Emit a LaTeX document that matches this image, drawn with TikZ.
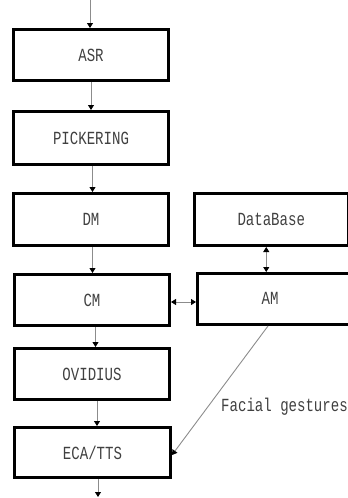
\documentclass[tikz,border=0pt]{standalone}
\usepackage{fontspec}
\newfontfamily\monof[FakeStretch=0.76]{Liberation Mono}
\usetikzlibrary{arrows.meta}
\begin{document}
\begin{tikzpicture}[x=1pt,y=-1pt,
  box/.style={draw=black,line width=3pt,rectangle,inner sep=0pt,
    minimum width=155pt,minimum height=51pt,
    font=\monof\fontsize{18.5}{18.5}\selectfont,text=black!75},
  conn/.style={draw=black!45,line width=0.9pt,
    -{Triangle[width=6pt,length=5pt,color=black]}},
  biconn/.style={draw=black!45,line width=0.9pt,
    {Triangle[width=6pt,length=5pt,color=black]}-{Triangle[width=6pt,length=5pt,color=black]}},
  lbl/.style={font=\monof\fontsize{18.5}{18.5}\selectfont,text=black!75,inner sep=0pt}]
\path[use as bounding box] (0,0) rectangle (348,498);
\clip (0,0) rectangle (348,498);
\node[box] (asr) at (91,55) {ASR};
\node[box,minimum height=53pt] (pick) at (91,138) {PICKERING};
\node[box,minimum height=52pt] (dm) at (91,219.5) {DM};
\node[box,minimum height=52pt,minimum width=153.5pt] (db) at (271.25,219.5) {DataBase};
\node[box] (cm) at (92,300) {CM};
\node[box,minimum width=162.5pt] (am) at (278.75,299) {};
\node[lbl] (amt) at (270,298) {AM};
\node[box] (ov) at (92,374) {OVIDIUS};
\node[box,minimum width=156pt,minimum height=50pt] (eca) at (92.5,452.5) {ECA/TTS};
\coordinate (in) at (90,0);
\coordinate (out) at (98,497);
\node[lbl,anchor=west] (fg) at (221,407) {Facial gestures};
\draw[conn] (in) -- ([xshift=-1pt]asr.north);
\draw[conn] (asr.south) -- (pick.north);
\draw[conn] ([xshift=1.5pt]pick.south) -- ([xshift=1.5pt]dm.north);
\draw[conn] ([xshift=1.5pt]dm.south) -- ([xshift=0.5pt]cm.north);
\draw[conn] ([xshift=3.5pt]cm.south) -- ([xshift=3.5pt]ov.north);
\draw[conn] ([xshift=5pt]ov.south) -- ([xshift=4.5pt]eca.north);
\draw[conn] ([xshift=5.5pt]eca.south) -- (out);
\draw[biconn] ([xshift=-5pt]db.south) -- ([xshift=-12.5pt]am.north);
\draw[biconn] ([yshift=-2pt]cm.east) -- ([yshift=-3pt]am.west);
\draw[conn] ([xshift=-10.75pt]am.south) -- ([yshift=-2.5pt]eca.east);
\end{tikzpicture}
\end{document}
